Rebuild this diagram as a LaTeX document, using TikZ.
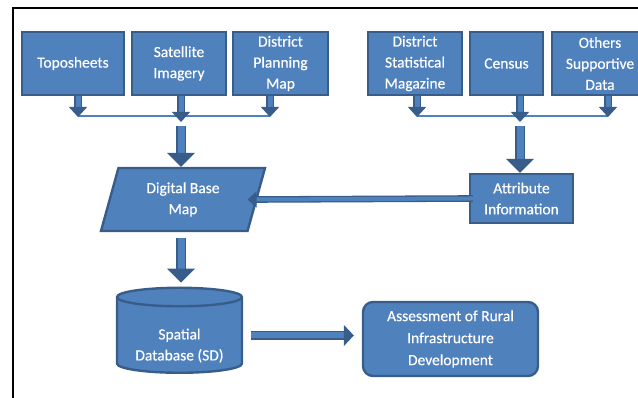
\documentclass[tikz,border=0pt]{standalone}
\usepackage{fontspec}
\setmainfont{Carlito}
\usetikzlibrary{shapes.geometric,arrows.meta}
\definecolor{fillc}{HTML}{4F81BD}
\definecolor{bord}{HTML}{385D8A}
\begin{document}
\begin{tikzpicture}[x=1pt,y=-1pt,
  box/.style={draw=bord, fill=fillc, line width=2.4pt, text=white, align=center,
    font=\fontsize{15.5}{21}\selectfont\addfontfeature{FakeBold=0.4}, inner sep=0pt, minimum height=63pt},
  barrow/.style={draw=bord, line width=1.3pt, double=fillc, double distance=5pt,
    -{Triangle[length=10pt, width=18pt]}},
  bigarrow/.style={draw=bord, line width=1.5pt, double=fillc, double distance=7pt,
    -{Triangle[length=14pt, width=28pt]}},
  harrow/.style={draw=bord, line width=1.3pt, double=fillc, double distance=4pt,
    -{Triangle[length=9pt, width=16pt]}},
  rarrow/.style={draw=bord, line width=1.4pt, double=fillc, double distance=6pt,
    -{Triangle[length=10pt, width=21pt]}},
  bracket/.style={draw=bord, line width=0.8pt, double=fillc, double distance=1.2pt}]
\useasboundingbox (0,0) rectangle (638,398);
\draw[line width=2pt, black] (12.5,398) -- (12.5,8.5) -- (640,8.5);

\node[box, minimum width=102pt] (topo) at (73,63.5) {Toposheets};
\node[box, minimum width=94pt] (sat) at (179,63.5) {Satellite\\Imagery};
\node[box, minimum width=95pt] (dpm) at (280.5,63.5) {District\\Planning\\Map};
\node[box, minimum width=94pt] (dsm) at (415,63.5) {District\\Statistical\\Magazine};
\node[box, minimum width=73pt] (cen) at (506.5,63.5) {Census};
\node[box, minimum width=96pt] (oth) at (600,63.5) {Others\\Supportive\\Data};

\node[box, trapezium, trapezium left angle=63, trapezium right angle=117,
  trapezium stretches body, minimum width=164pt, minimum height=63pt] (dbm) at (183,199.5) {Digital Base\\Map};
\node[box, minimum width=103pt, minimum height=49pt] (attr) at (521.5,198.5) {Attribute\\Information};
\node[box, cylinder, shape border rotate=90, aspect=0.21, minimum width=125pt,
  minimum height=85pt] (cyl) at (179.5,335.5) {\\[10pt]Spatial\\Database (SD)};
\node[box, rounded corners=10pt, minimum width=175pt, minimum height=74pt,
  font=\fontsize{15.5}{22}\selectfont\addfontfeature{FakeBold=0.4}] (ass) at (450.5,339)
  {Assessment of Rural\\Infrastructure\\Development};

\coordinate (b1) at (78,117);
\coordinate (b2) at (181,122);
\coordinate (b3) at (270,117);
\coordinate (bm) at (181,126);
\coordinate (c1) at (417,117);
\coordinate (c2) at (520,122);
\coordinate (c3) at (608,117);
\coordinate (cm) at (520,126);
\coordinate (l1) at (78,116);
\coordinate (l3) at (270,116);
\coordinate (r1) at (417,116);
\coordinate (r3) at (608,116);

\draw[bracket] (l1) -- (l3);
\draw[bracket] (r1) -- (r3);
\draw[barrow] (topo.south -| b1) -- (b1);
\draw[barrow] (sat.south -| b2) -- (b2);
\draw[barrow] (dpm.south -| b3) -- (b3);
\draw[barrow] (dsm.south -| c1) -- (c1);
\draw[barrow] (cen.south -| c2) -- (c2);
\draw[barrow] (oth.south -| c3) -- (c3);
\draw[bigarrow] (bm) -- (bm |- dbm.north);
\draw[bigarrow] (cm) -- (attr.north -| cm);
\draw[harrow, shorten <=-4pt, shorten >=-10pt] (attr.west) -- (dbm.east);
\draw[bigarrow, shorten <=6pt, shorten >=4pt] (dbm.south -| bm) -- (cyl.north -| bm);
\draw[rarrow, shorten <=8pt, shorten >=8pt] (cyl.east) -- (cyl.east -| ass.west);
\end{tikzpicture}
\end{document}
